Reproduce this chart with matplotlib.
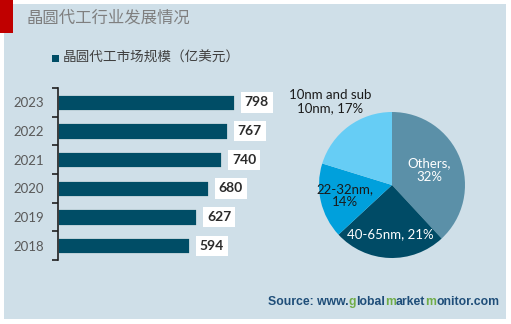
import matplotlib.pyplot as plt
import matplotlib.patches as mpatches
import numpy as np

plt.rcParams['font.family'] = ['Lato', 'Noto Sans CJK SC', 'DejaVu Sans']

# ── data ──────────────────────────────────────────────────────────────────────
years = ['2018', '2019', '2020', '2021', '2022', '2023']
market = [594, 627, 680, 740, 767, 798]

pie_labels = ['Others,\n32%', '40-65nm, 21%', '22-32nm,\n14%', '10nm and sub\n10nm, 17%']
pie_values = [32, 21, 14, 17]

# ── style ─────────────────────────────────────────────────────────────────────
BG = '#cfdfe8'
BAR = '#004d66'
PIE_COLS = ['#5b90a8', '#004b66', '#00a0dc', '#66cdf5']
W, H = 511, 324

fig = plt.figure(figsize=(W / 100, H / 100), dpi=100)
fig.patch.set_facecolor('white')

def fx(px):
    return px / W

def fy(py):
    return 1 - py / H

# background panel + red block
fig.patches.append(mpatches.Rectangle((fx(4), fy(319)), fx(502), 315 / H,
                                      transform=fig.transFigure, facecolor=BG,
                                      edgecolor='none', zorder=-2))
fig.patches.append(mpatches.Rectangle((0, fy(33)), fx(13), 33 / H,
                                      transform=fig.transFigure, facecolor='#c00000',
                                      edgecolor='none', zorder=-1))
fig.text(fx(27), fy(18), '晶圆代工行业发展情况', fontsize=11.8, color='#7f7f7f',
         family=['Noto Sans CJK SC'], va='center', ha='left')

# legend
fig.patches.append(mpatches.Rectangle((fx(52), fy(62)), fx(7), 7 / H,
                                      transform=fig.transFigure, facecolor=BAR,
                                      edgecolor='none', zorder=-1))
fig.text(fx(63), fy(58), '晶圆代工市场规模（亿美元）', fontsize=9.8, color='#404040',
         family=['Noto Sans CJK SC'], va='center', ha='left')

# ── bar chart ─────────────────────────────────────────────────────────────────
ax = fig.add_axes([fx(58), fy(260), 220 / W, 172 / H])
ax.set_facecolor('none')
y = np.arange(len(years))
ax.barh(y, market, height=0.53, color=BAR, edgecolor='white', linewidth=0.4)
ax.set_xlim(0, 1000)
ax.set_ylim(-0.5, len(years) - 0.5)
for s in ['top', 'right', 'bottom']:
    ax.spines[s].set_visible(False)
ax.spines['left'].set_color('#202020')
ax.spines['left'].set_linewidth(1.2)
ax.set_xticks([])
ax.set_yticks(y)
ax.set_yticklabels(years, fontsize=9.5, color='#595959')
ax.tick_params(axis='y', which='major', length=0, pad=10)
ax.set_yticks(np.arange(-0.5, len(years)), minor=True)
ax.tick_params(axis='y', which='minor', length=4, width=1.2, color='#202020')
for yi, v in zip(y, market):
    ax.annotate(str(v), xy=(v, yi), xytext=(8, 0), textcoords='offset points',
                ha='left', va='center', fontsize=10, fontweight='bold',
                color='#2b2b2b',
                bbox=dict(boxstyle='square,pad=0.3', facecolor='white',
                          edgecolor='none'))

# ── pie ───────────────────────────────────────────────────────────────────────
R = 73
pax = fig.add_axes([fx(392 - R), fy(185 + R), 2 * R / W, 2 * R / H])
wedges, _ = pax.pie(pie_values, colors=PIE_COLS, startangle=90, counterclock=False,
                    radius=1, wedgeprops=dict(edgecolor='none'))
pax.set_xlim(-1, 1)
pax.set_ylim(-1, 1)
pax.set_aspect('equal')
pax.axis('off')
label_r = [0.55, 0.68, 0.66, 1.42]
label_c = ['white', 'white', '#1a1a1a', '#1a1a1a']
for w, lab, r, c in zip(wedges, pie_labels, label_r, label_c):
    ang = np.deg2rad((w.theta1 + w.theta2) / 2)
    pax.text(r * np.cos(ang), r * np.sin(ang), lab, ha='center', va='center',
             fontsize=9.5, color=c, linespacing=1.15, clip_on=False)

# ── source (multicoloured, placed by measuring the prefix width) ─────────────
parts = [('Source: www.', '#1f4e79'), ('g', '#70ad47'), ('lobal', '#1f4e79'),
         ('m', '#70ad47'), ('arket', '#1f4e79'), ('m', '#70ad47'),
         ('onitor.com', '#1f4e79')]
renderer = fig.canvas.get_renderer()
src_kw = dict(fontsize=8.8, fontweight='bold', family=['Liberation Sans'],
              ha='left', va='baseline')

def ink_width(s):
    t = fig.text(0, 0, s, **src_kw)
    w = t.get_window_extent(renderer).width
    t.remove()
    return w

x_start, y_base = 268, 305
prefix = ''
for txt, col in parts:
    dx = ink_width(prefix + txt) - ink_width(txt) if prefix else 0
    fig.text(fx(x_start + dx), fy(y_base), txt, color=col, **src_kw)
    prefix += txt

fig.savefig('out.png', dpi=100, facecolor='white')
